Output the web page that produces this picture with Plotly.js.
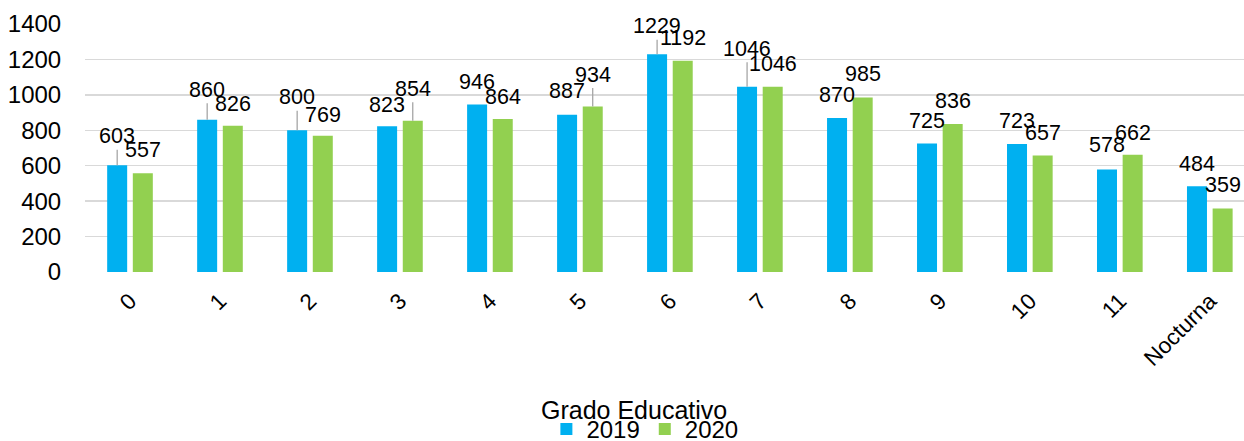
<!DOCTYPE html>
<html>
<head>
<meta charset="utf-8">
<script src="https://cdn.plot.ly/plotly-3.0.1.min.js"></script>
<style>
  html, body { margin: 0; padding: 0; background: #ffffff; }
  #chart { width: 1244px; height: 441px; }
</style>
</head>
<body>
<div id="chart"></div>
<script>
// ---- data ----
const categories = ['0', '1', '2', '3', '4', '5', '6', '7', '8', '9', '10', '11', 'Nocturna'];
const values2019 = [603, 860, 800, 823, 946, 887, 1229, 1046, 870, 725, 723, 578, 484];
const values2020 = [557, 826, 769, 854, 864, 934, 1192, 1046, 985, 836, 657, 662, 359];
const seriesNames = ['2019', '2020'];
const yTickValues = [0, 200, 400, 600, 800, 1000, 1200, 1400];
const legendTitle = 'Grado Educativo';

// ---- style ----
const colors = ['#00B0F0', '#92D050'];
const FONT = 'Liberation Sans, Arial, sans-serif';
// data-label lift above bar top (px), mimicking the spreadsheet's label placement
const labelLift2019 = [29, 30, 33, 21, 22, 24, 28, 38, 23, 23, 23, 25, 22];
const labelLift2020 = [23, 22, 21, 32, 22, 32, 23, 23, 24, 23, 23, 22, 23];
const barShift = 12.8;

const traces = [values2019, values2020].map((vals, k) => ({
  type: 'bar',
  name: seriesNames[k],
  x: categories,
  y: vals,
  marker: { color: colors[k], line: { width: 0 } },
  hoverinfo: 'x+y+name'
}));

const annotations = [];
[[values2019, labelLift2019, -barShift], [values2020, labelLift2020, barShift]].forEach(([vals, lifts, shift]) => {
  vals.forEach((v, i) => {
    const leader = lifts[i] >= 28;
    annotations.push({
      x: categories[i], y: v, xref: 'x', yref: 'y',
      xshift: shift,
      text: String(v),
      showarrow: true, arrowhead: 0, arrowwidth: 1.3, standoff: 0,
      arrowcolor: leader ? '#a6a6a6' : 'rgba(0,0,0,0)',
      ax: 0, ay: -lifts[i],
      font: { family: FONT, size: 21.5, color: '#000000' }
    });
  });
});

// legend title drawn as a centred text just above the legend row
annotations.push({
  text: legendTitle,
  xref: 'paper', yref: 'paper',
  x: (634 - 85) / 1159, y: -(410 - 272) / 248,
  xanchor: 'center', yanchor: 'middle',
  showarrow: false,
  font: { family: FONT, size: 25, color: '#000000' }
});

const layout = {
  width: 1244, height: 441,
  paper_bgcolor: '#ffffff', plot_bgcolor: '#ffffff',
  margin: { l: 85, r: 0, t: 24, b: 169 },
  font: { family: FONT, color: '#000000' },
  barmode: 'group',
  bargap: 0.43,
  bargroupgap: 0.22,
  xaxis: {
    type: 'category',
    range: [-0.5, 12.38],
    tickangle: -45,
    ticks: 'outside', ticklen: 6, tickcolor: 'rgba(0,0,0,0)',
    tickfont: { family: FONT, size: 22.5, color: '#000000' },
    showline: false, showgrid: false, zeroline: false,
    automargin: false
  },
  yaxis: {
    range: [0, 1400],
    tickvals: yTickValues,
    ticktext: yTickValues.map(String),
    ticks: 'outside', ticklen: 18, tickcolor: 'rgba(0,0,0,0)',
    tickfont: { family: FONT, size: 24, color: '#000000' },
    showgrid: true, gridcolor: '#d9d9d9', gridwidth: 1.3,
    zeroline: false, showline: false,
    automargin: false
  },
  showlegend: true,
  legend: {
    orientation: 'h',
    xref: 'container', yref: 'container',
    x: 0.5184, xanchor: 'center',
    y: (441 - 429.5) / 441, yanchor: 'middle',
    font: { family: FONT, size: 24, color: '#000000' },
    itemwidth: 30,
    tracegroupgap: 0,
    bgcolor: 'rgba(0,0,0,0)'
  },
  annotations: annotations
};

Plotly.newPlot('chart', traces, layout, { displayModeBar: false, staticPlot: true });
</script>
</body>
</html>
